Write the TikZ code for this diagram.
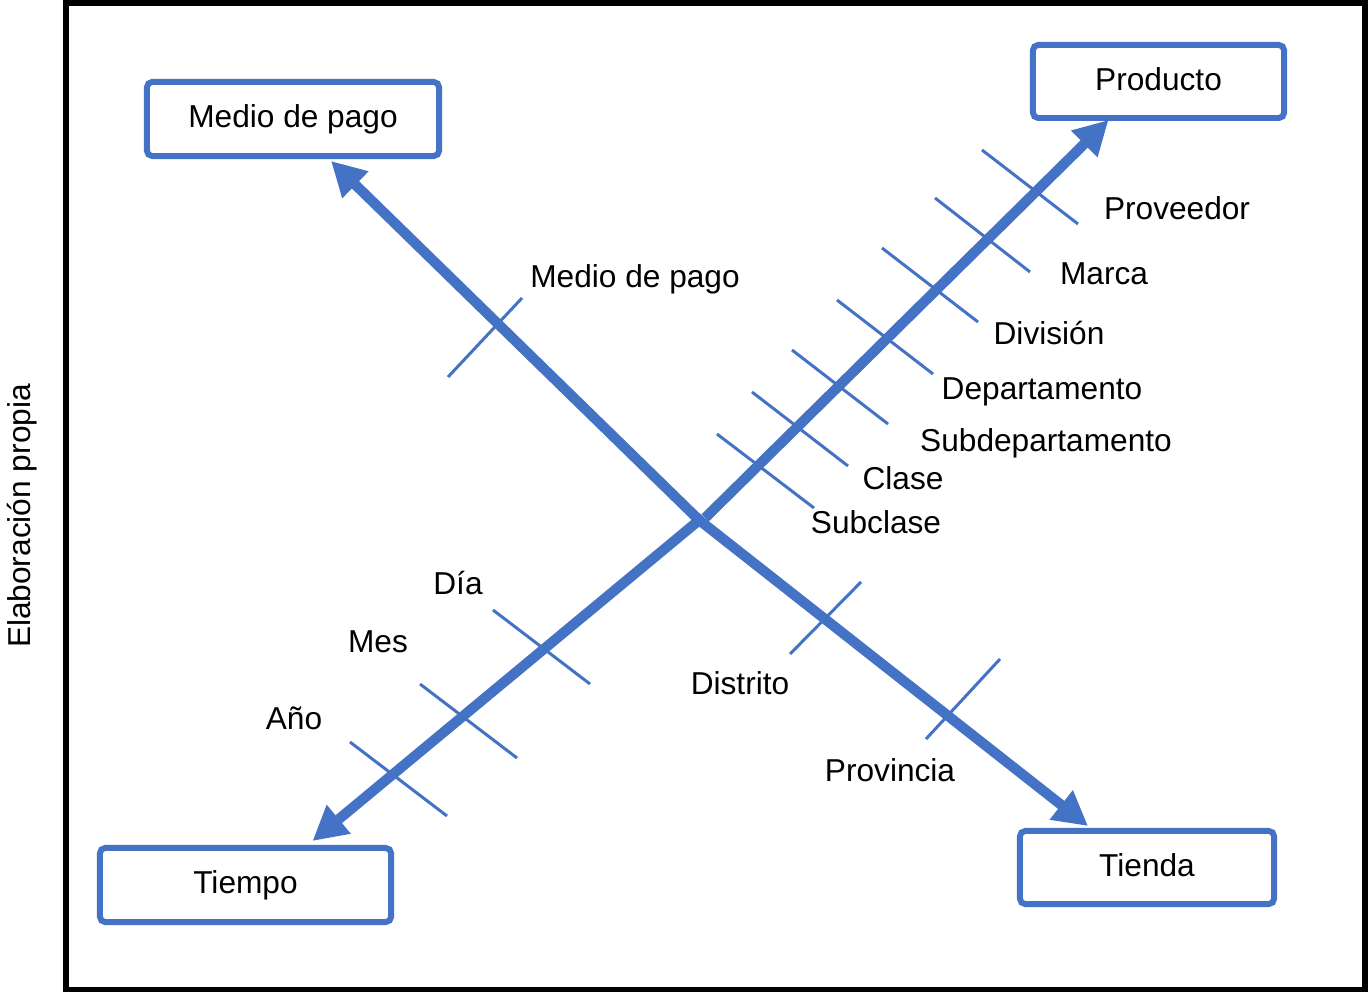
\documentclass[tikz,border=0pt]{standalone}
\usepackage{fontspec}
\setmainfont{Liberation Sans}
\usetikzlibrary{arrows.meta,calc}
\definecolor{obl}{HTML}{4472C4}
\begin{document}
\begin{tikzpicture}[x=0.01cm,y=-0.01cm,
  box/.style={draw=obl,line width=1.7pt,rounded corners=1.5pt,inner sep=0pt,
    font=\fontsize{9}{11}\selectfont,text height=0.75em,text depth=0.25em},
  lbl/.style={font=\fontsize{9}{11}\selectfont,inner sep=0pt,anchor=base},
  tickln/.style={draw=obl,line width=0.85pt},
  arr/.style={draw=obl,line width=2.9pt,-{Triangle[length=9.7pt,width=10pt]}}]
\useasboundingbox (0,0) rectangle (1368,992);
\draw[line width=1.7pt] (66,3) rectangle (1365,989.5);
\node[lbl,rotate=90] (src) at (31,516) {Elaboración propia};

% boxes
\node[box,minimum width=2.92cm,minimum height=0.74cm] (medio) at (293,119) {Medio de pago};
\node[box,minimum width=2.51cm,minimum height=0.73cm] (producto) at (1158.5,81.5) {Producto};
\node[box,minimum width=2.91cm,minimum height=0.74cm] (tiempo) at (245.5,885) {Tiempo};
\node[box,minimum width=2.54cm,minimum height=0.73cm] (tienda) at (1147,867.5) {Tienda};

% centre
\coordinate (c1) at (699,520);
\coordinate (c2) at (705,518);
\coordinate (c3) at (703,517);

% arrows
\draw[arr] (c1) -- ($(medio.south)+(38,2)$);
\draw[arr] (c1) -- ($(tienda.north)+(-59,-2)$);
\draw[arr] (c3) -- ($(tiempo.north)+(67,-4)$);
\draw[arr] (c2) -- ($(producto.south)+(-50,-1)$);

% ticks Producto
\draw[tickln] (982,150) -- (1078,224);
\draw[tickln] (935,198) -- (1030,272);
\draw[tickln] (882,248) -- (978,322);
\draw[tickln] (837,300) -- (933,374);
\draw[tickln] (792,350) -- (888,424);
\draw[tickln] (752,392) -- (848,466);
\draw[tickln] (717,434) -- (814,508);
% tick Medio de pago
\draw[tickln] (448,377) -- (522,298);
% ticks Tiempo
\draw[tickln] (493,610) -- (590,684);
\draw[tickln] (420,684) -- (517,758);
\draw[tickln] (350,742) -- (447,816);
% ticks Tienda
\draw[tickln] (790,654) -- (861,582);
\draw[tickln] (926,739) -- (1000,659);

% labels
\node[lbl] (l1) at (1177,220) {Proveedor};
\node[lbl] (l2) at (1104,285) {Marca};
\node[lbl] (l3) at (1049,345) {División};
\node[lbl] (l4) at (1042,400) {Departamento};
\node[lbl] (l5) at (1046,452) {Subdepartamento};
\node[lbl] (l6) at (903,490) {Clase};
\node[lbl] (l7) at (876,534) {Subclase};
\node[lbl] (l8) at (635,288) {Medio de pago};
\node[lbl] (l9) at (458,594) {Día};
\node[lbl] (l10) at (378,652) {Mes};
\node[lbl] (l11) at (294,729) {Año};
\node[lbl] (l12) at (740,694) {Distrito};
\node[lbl] (l13) at (890,781) {Provincia};
\end{tikzpicture}
\end{document}
